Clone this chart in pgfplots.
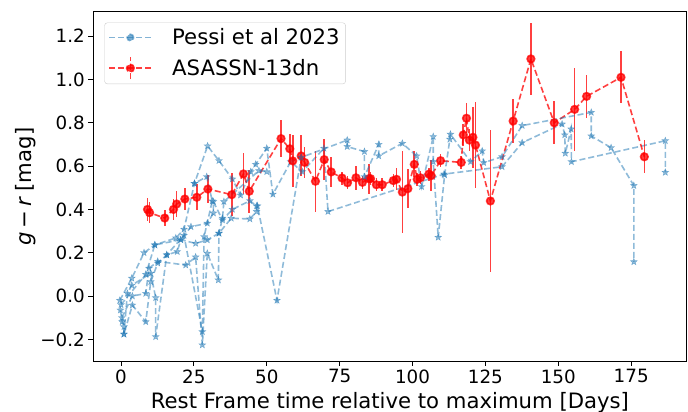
\documentclass[border=0pt]{standalone}
\usepackage{pgfplots}
\pgfplotsset{compat=1.18}
\usepackage{fontspec}
\setmainfont{DejaVu Sans}
\definecolor{tabblue}{HTML}{1F77B4}
\pgfdeclareplotmark{fstar}{%
  \pgfpathmoveto{\pgfpointpolar{90}{\pgfplotmarksize}}%
  \pgfpathlineto{\pgfpointpolar{126}{0.42\pgfplotmarksize}}%
  \pgfpathlineto{\pgfpointpolar{162}{\pgfplotmarksize}}%
  \pgfpathlineto{\pgfpointpolar{198}{0.42\pgfplotmarksize}}%
  \pgfpathlineto{\pgfpointpolar{234}{\pgfplotmarksize}}%
  \pgfpathlineto{\pgfpointpolar{270}{0.42\pgfplotmarksize}}%
  \pgfpathlineto{\pgfpointpolar{306}{\pgfplotmarksize}}%
  \pgfpathlineto{\pgfpointpolar{342}{0.42\pgfplotmarksize}}%
  \pgfpathlineto{\pgfpointpolar{18}{\pgfplotmarksize}}%
  \pgfpathlineto{\pgfpointpolar{54}{0.42\pgfplotmarksize}}%
  \pgfpathclose\pgfusepathqfillstroke}
\pgfplotstableread{
x y e
9.1 0.40 0.055
9.8 0.385 0.05
15.0 0.36 0.038
18.0 0.40 0.05
19.1 0.425 0.06
21.9 0.448 0.05
26.0 0.456 0.06
29.8 0.494 0.065
38.0 0.468 0.10
42.0 0.564 0.095
44.0 0.484 0.10
54.9 0.727 0.086
57.9 0.68 0.07
58.9 0.624 0.12
61.8 0.647 0.095
63.0 0.617 0.07
66.7 0.53 0.14
69.7 0.63 0.093
72.1 0.573 0.07
75.8 0.545 0.03
77.7 0.523 0.03
80.6 0.546 0.056
82.8 0.525 0.03
85.0 0.542 0.07
85.6 0.542 0.03
87.6 0.514 0.03
89.6 0.514 0.03
93.4 0.533 0.03
94.5 0.539 0.05
96.5 0.48 0.19
98.4 0.496 0.09
100.6 0.608 0.06
101.6 0.539 0.03
102.7 0.546 0.03
105.6 0.563 0.03
106.4 0.556 0.07
109.6 0.625 0.03
116.7 0.617 0.03
117.4 0.744 0.05
118.5 0.821 0.07
119.5 0.72 0.05
120.7 0.733 0.14
121.6 0.697 0.2
126.7 0.439 0.33
134.5 0.808 0.10
140.6 1.095 0.165
148.6 0.80 0.10
155.6 0.862 0.19
159.7 0.922 0.10
171.5 1.01 0.12
179.5 0.643 0.077
}\redtab
\begin{document}
\begin{tikzpicture}
\path[use as bounding box] (-93.3pt,-51pt) rectangle (594.7pt,361pt);
\begin{axis}[
  at={(0,0)}, anchor=south west,
  scale only axis, width=593.3pt, height=349.3pt,
  xmin=-9.5, xmax=194, ymin=-0.30, ymax=1.313,
  axis line style={line width=0.9pt},
  tick align=outside, xtick pos=left, ytick pos=left,
  major tick length=5pt, tick style={line width=0.9pt, black},
  xtick={0,25,50,75,100,125,150,175},
  xticklabels={0,25,50,75,100,125,150,175},
  ytick={-0.2,0,0.2,0.4,0.6,0.8,1.0,1.2},
  yticklabels={−0.2,0.0,0.2,0.4,0.6,0.8,1.0,1.2},
  ticklabel style={font=\fontsize{18.3}{22}\selectfont},
  xlabel={Rest Frame time relative to maximum [Days]},
  ylabel={{\itshape g}\,−\,{\itshape r} [mag]},
  every axis x label/.style={at={(axis description cs:0.5,0)}, yshift=-47pt, anchor=base,
    font=\fontsize{21.2}{25}\selectfont},
  every axis y label/.style={at={(axis description cs:-0.1146,0.5)}, rotate=90, anchor=center,
    font=\fontsize{21.2}{25}\selectfont},
  legend style={at={(rel axis cs:0.0186,0.969)}, anchor=north west,
    draw=black!20, rounded corners=3pt, fill=white, fill opacity=0.8, text opacity=1,
    font=\fontsize{21.2}{25}\selectfont, inner xsep=4pt, inner ysep=4pt,
    row sep=8pt},
  legend cell align=left,
  bstyle/.style={tabblue, opacity=0.5, dashed, dash pattern=on 6pt off 3pt, line width=1.6pt,
    mark=fstar, mark size=3.6pt, mark options={solid, line width=0.4pt}},
]
\addplot[bstyle, legend image code/.code={
  \draw[tabblue, draw opacity=0.55, dash pattern=on 6pt off 3pt, line width=1.7pt] (0pt,0pt) -- (42pt,0pt);
  \fill[tabblue, fill opacity=0.6] (21pt,0pt) circle (3.3pt);
  \path (60pt,0pt);}]
coordinates {(-0.4,-0.02) (3.7,0.082) (7.9,0.20) (11.6,0.236) (18.8,0.268) (21.6,0.308) (25.2,0.52) (29.7,0.693) (33.6,0.625) (38.2,0.54) (41,0.466) (44.5,0.574) (46.2,0.608) (50,0.682) (52.1,0.47) (58.2,0.62) (62.2,0.574) (69.6,0.682) (71,0.39) (110.8,0.563) (130.7,0.597) (137.6,0.708) (151.3,0.794) (152.2,0.744) (152.4,0.659) (154.4,0.771) (154.5,0.62) (186.7,0.717) (186.7,0.571)};
\addlegendentry{Pessi et al 2023}
\addplot[red, opacity=0.75, dashed, dash pattern=on 6pt off 3pt, line width=1.6pt,
  mark=*, mark size=3.8pt, mark options={solid, fill=red, draw=red},
  error bars/.cd, y dir=both, y explicit, error mark=none,
  error bar style={solid, line width=1.6pt, red},
  /pgfplots/legend image code/.code={
  \draw[red, draw opacity=0.75, dash pattern=on 6pt off 3pt, line width=1.6pt] (0pt,0pt) -- (42pt,0pt);
  \draw[red, draw opacity=0.75, line width=1.6pt] (21pt,-11pt) -- (21pt,11pt);
  \fill[red, fill opacity=0.8] (21pt,0pt) circle (3.8pt);
  \path (60pt,0pt);}
  ]
  table[x=x, y=y, y error=e] {\redtab};
\addlegendentry{ASASSN-13dn}
\addplot[bstyle, forget plot] coordinates {(-0.2,-0.065) (0.4,-0.119) (1,-0.142) (1,-0.176) (3.9,-0.042) (8.5,-0.119) (10.2,0.066) (12.6,0.152) (15.7,0.19) (19.3,0.205) (20.5,0.26) (25.6,0.243) (29.6,0.259) (33.6,0.29) (37.8,0.359) (44.2,0.356) (46.5,0.39) (46.8,0.416) (53.5,-0.02) (61.8,0.64) (77.6,0.72) (77.6,0.69) (83.5,0.667) (83.5,0.551) (88.4,0.70) (88.4,0.647) (96.5,0.705) (101.4,0.647) (103.1,0.505) (107.1,0.736) (107.1,0.62) (108.8,0.271) (111,0.559) (112.8,0.724) (113,0.747) (119.9,0.62) (123.9,0.67) (124.4,0.616) (130.7,0.643) (137.6,0.787) (161.3,0.848) (161.3,0.739) (168.1,0.685) (175.9,0.51) (175.9,0.158)};
\addplot[bstyle, forget plot] coordinates {(0.3,-0.10) (3.9,0.0) (8.5,0.012) (9.6,0.128) (12.6,0.16) (22.2,0.143) (25.6,0.18) (27.9,-0.226) (29.6,0.197) (33.4,0.074) (33.6,0.29) (34.8,0.359) (35.3,0.436) (47.3,0.579) (50,0.574)};
\addplot[bstyle, forget plot] coordinates {(1,-0.176) (2.2,0.012) (3.7,0.05) (10.2,0.105) (11.9,-0.008) (11.9,-0.188) (15.7,0.19) (21.6,0.28) (27.9,-0.165) (28.5,0.274) (31.3,0.439) (29.4,0.551) (25.2,0.52)};
\addplot[bstyle, forget plot] coordinates {(0,-0.04) (8.5,0.10) (11.6,0.236) (20.5,0.26) (24,0.32) (29.6,0.336) (31.7,0.383) (31.7,0.436) (34.8,0.351) (38.2,0.40) (44.2,0.44) (46.5,0.416)};
\end{axis}
\end{tikzpicture}
\end{document}
